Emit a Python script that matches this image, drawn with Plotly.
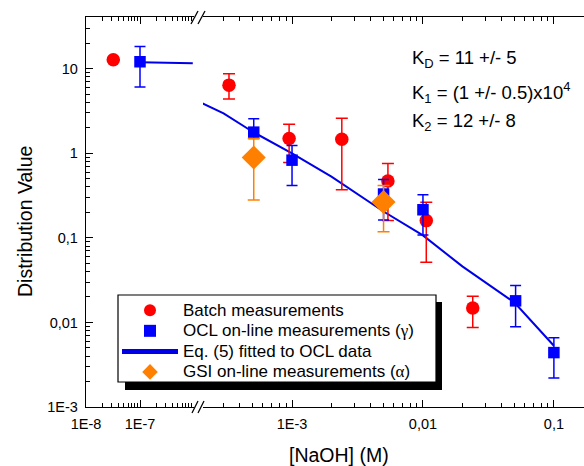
import plotly.graph_objects as go

# ---------------- data ----------------
batch_x = [3.2e-8, 3.3e-4, 9.5e-4, 2.4e-3, 5.4e-3, 1.06e-2, 2.4e-2]
batch_y = [12.8, 6.4, 1.5, 1.47, 0.47, 0.16, 0.0148]
batch_hi = [12.8, 8.7, 2.2, 2.6, 0.76, 0.264, 0.0204]
batch_lo = [12.8, 4.4, 0.78, 0.37, 0.16, 0.0515, 0.0087]

ocl_x = [1e-7, 5.1e-4, 1e-3, 5e-3, 1e-2, 5.1e-2, 1e-1]
ocl_y = [12.1, 1.78, 0.83, 0.33, 0.215, 0.018, 0.0044]
ocl_hi = [18.3, 2.56, 1.24, 0.49, 0.323, 0.0274, 0.0066]
ocl_lo = [6.1, 1.5, 0.415, 0.163, 0.108, 0.0089, 0.0022]

gsi_x = [5.1e-4, 5e-3]
gsi_y = [0.89, 0.265]
gsi_hi = [1.5, 0.415]
gsi_lo = [0.28, 0.118]

fit_x = [1e-7, 5e-7, 9.5e-7,
         2.06e-4, 3e-4, 5e-4, 1e-3, 2e-3, 5e-3, 1e-2, 2e-2, 5e-2, 1e-1]
fit_y = [11.9, 11.7, 11.6,
         3.9, 2.97, 1.8, 1.0, 0.53, 0.205, 0.107, 0.046, 0.0172, 0.0053]

y_tickvals = [1e-3, 1e-2, 1e-1, 1, 10]
y_ticktext = ["1E-3", "0,01", "0,1", "1", "10"]
xl_tickvals = [1e-8, 1e-7]
xl_ticktext = ["1E-8", "1E-7"]
xr_tickvals = [1e-3, 1e-2, 1e-1]
xr_ticktext = ["1E-3", "0,01", "0,1"]

GREEK = "<span style=\"font-family:'Liberation Serif', 'Times New Roman', serif\">%s</span>"
legend_names = ["Batch measurements",
                "OCL on-line measurements (" + GREEK % "\u03b3" + ")",
                "Eq. (5) fitted to OCL data",
                "GSI on-line measurements (" + GREEK % "\u03b1" + ")"]

BREAK = 1e-5  # values below belong to the left axis segment

# ---------------- geometry helpers ----------------
W, H = 584, 466
L, R, T, B = 86, 0, 17, 59
PW, PH = W - L - R, H - T - B


def fx(px):
    return (px - L) / PW


def fy(py):
    return (H - B - py) / PH


FONT = "Arial, Liberation Sans, sans-serif"
RED, BLUE, ORANGE = "#FF0000", "#0000FF", "#FF8000"


def split(xs, *cols):
    left = [i for i, v in enumerate(xs) if v < BREAK]
    right = [i for i, v in enumerate(xs) if v >= BREAK]
    out = []
    for idx in (left, right):
        out.append([[c[i] for i in idx] for c in (xs,) + cols])
    return out


def lg(name):
    return "<span style=\"font-size:17px\">" + name + "</span>"


fig = go.Figure()

# fit line
for k, (xs, ys) in enumerate(split(fit_x, fit_y)):
    fig.add_trace(go.Scatter(
        x=xs, y=ys, mode="lines", line=dict(color="#0000E6", width=2),
        name=lg(legend_names[2]), legendgroup="fit", legendrank=3,
        showlegend=(k == 1), xaxis="x" if k == 0 else "x2", yaxis="y"))


def add_points(xs, ys, hi, lo, name, group, rank, color, symbol, size, capw):
    for k, (px_, py_, ph_, pl_) in enumerate(split(xs, ys, hi, lo)):
        if not px_:
            continue
        fig.add_trace(go.Scatter(
            x=px_, y=py_, mode="markers",
            marker=dict(color=color, symbol=symbol, size=size, line=dict(width=0)),
            error_y=dict(type="data", symmetric=False,
                         array=[h - v for h, v in zip(ph_, py_)],
                         arrayminus=[v - l for l, v in zip(pl_, py_)],
                         color=color, thickness=1.5, width=capw),
            name=lg(name), legendgroup=group, legendrank=rank,
            showlegend=(k == 1), xaxis="x" if k == 0 else "x2", yaxis="y"))


add_points(batch_x, batch_y, batch_hi, batch_lo, legend_names[0], "batch", 1,
           RED, "circle", 13.5, 6)
add_points(ocl_x, ocl_y, ocl_hi, ocl_lo, legend_names[1], "ocl", 2,
           BLUE, "square", 11.5, 5.5)
add_points(gsi_x, gsi_y, gsi_hi, gsi_lo, legend_names[3], "gsi", 4,
           ORANGE, "diamond", 18.5, 6)

minor_l = [m * 10 ** e for e in (-8, -7) for m in range(2, 10)]
minor_r = [m * 10 ** e for e in (-4, -3, -2) for m in range(2, 10)]
minor_y = [m * 10 ** e for e in (-3, -2, -1, 0, 1) for m in range(2, 10)]

axis_common = dict(type="log", showline=True, linecolor="black", linewidth=1.3,
                   ticks="inside", ticklen=7, tickwidth=1.2, tickcolor="black",
                   showgrid=False, zeroline=False,
                   tickfont=dict(family=FONT, size=14.5, color="black"))

fig.update_layout(
    width=W, height=H,
    margin=dict(l=L, r=R, t=T, b=B, autoexpand=False),
    paper_bgcolor="white", plot_bgcolor="white",
    font=dict(family=FONT, color="black"),
    xaxis=dict(**axis_common, domain=[0, fx(194)], range=[-8, -6.0],
               anchor="y", mirror="ticks", tickmode="array",
               tickvals=xl_tickvals, ticktext=xl_ticktext, ticklabelstandoff=3,
               minor=dict(ticks="inside", ticklen=4, tickwidth=1, tickcolor="black",
                          tickmode="array", tickvals=minor_l)),
    xaxis2=dict(**axis_common, domain=[fx(203), 1], range=[-3.68, -0.77],
                anchor="y", mirror="ticks", tickmode="array",
                tickvals=xr_tickvals, ticktext=xr_ticktext, ticklabelstandoff=3,
                minor=dict(ticks="inside", ticklen=4, tickwidth=1, tickcolor="black",
                           tickmode="array", tickvals=minor_r)),
    yaxis=dict(**axis_common, domain=[0, 1], range=[-3, 1.612], anchor="x",
               tickmode="array", tickvals=y_tickvals, ticktext=y_ticktext,
               ticklabelstandoff=4,
               minor=dict(ticks="inside", ticklen=4, tickwidth=1, tickcolor="black",
                          tickmode="array", tickvals=minor_y)),
    legend=dict(x=fx(117), y=fy(295), xanchor="left", yanchor="top",
                bgcolor="rgba(0,0,0,0)", borderwidth=0,
                font=dict(family=FONT, size=13.5, color="black"),
                tracegroupgap=0, itemwidth=56, itemsizing="constant"),
    showlegend=True,
)

# axis titles and parameter text
fig.add_annotation(text="[NaOH] (M)", x=fx(339), y=fy(455), xref="paper", yref="paper",
                   showarrow=False, font=dict(family=FONT, size=19.5), xanchor="center",
                   yanchor="middle")
fig.add_annotation(text="Distribution Value", x=fx(25), y=fy(222), xref="paper",
                   yref="paper", showarrow=False, textangle=-90,
                   font=dict(family=FONT, size=19.5), xanchor="center", yanchor="middle")
k_lines = ["K<sub>D</sub> = 11 +/- 5",
           "K<sub>1</sub> = (1 +/- 0.5)x10<sup>4</sup>",
           "K<sub>2</sub> = 12 +/- 8"]
for txt, yy in zip(k_lines, [59, 93, 122]):
    fig.add_annotation(text=txt, x=fx(410), y=fy(yy), xref="paper", yref="paper",
                       showarrow=False, font=dict(family=FONT, size=18.5),
                       xanchor="left", yanchor="middle")

# axis break marks, legend frame and its shadow
shapes = []
for (x0, y0, x1, y1) in [(192, 413, 198, 401), (198, 413, 204, 401),
                         (191, 24, 198, 11), (198, 24, 205, 11)]:
    shapes.append(dict(type="line", xref="paper", yref="paper",
                       x0=fx(x0), y0=fy(y0), x1=fx(x1), y1=fy(y1),
                       line=dict(color="black", width=1.3)))
# shadow drawn as two thick strokes (bottom and right) offset from the frame
shapes.append(dict(type="line", xref="paper", yref="paper",
                   x0=fx(125), y0=fy(386), x1=fx(442), y1=fy(386),
                   line=dict(color="black", width=8)))
shapes.append(dict(type="line", xref="paper", yref="paper",
                   x0=fx(439), y0=fy(302), x1=fx(439), y1=fy(390),
                   line=dict(color="black", width=6)))
shapes.append(dict(type="rect", xref="paper", yref="paper",
                   x0=fx(118), y0=fy(295), x1=fx(436), y1=fy(382),
                   fillcolor="white", line=dict(color="black", width=1.2)))
fig.update_layout(shapes=shapes)

fig.write_html("out.html", config={"displayModeBar": False},
               post_script="document.body.style.margin='0';")
